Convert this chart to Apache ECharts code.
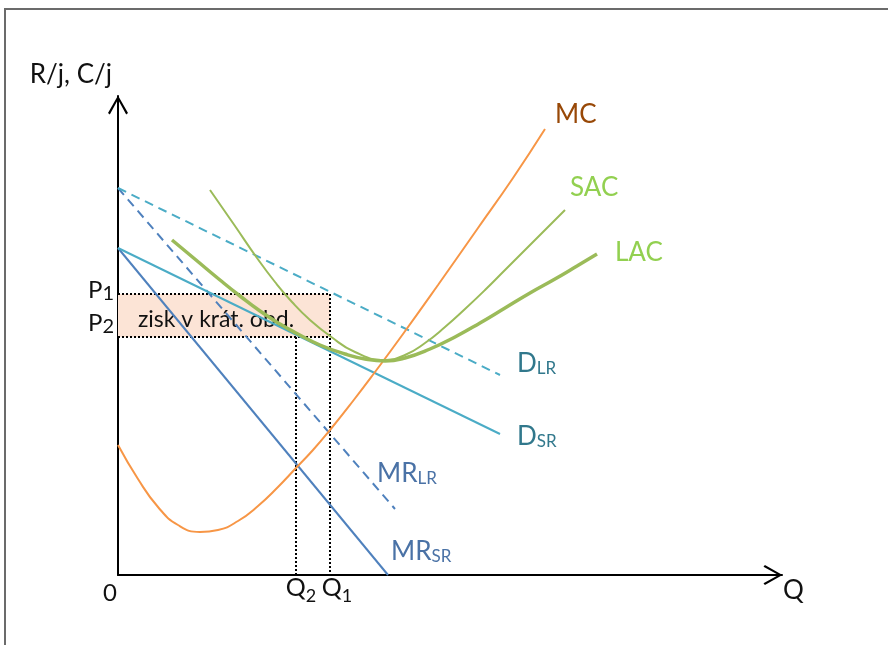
<!DOCTYPE html>
<html>
<head>
<meta charset="utf-8">
<script src="https://cdn.jsdelivr.net/npm/echarts@6/dist/echarts.min.js"></script>
<style>
  html, body { margin: 0; padding: 0; background: #fff; }
  #frame { position: absolute; left: 4px; top: 8px; width: 884px; height: 637px;
           border-left: 2px solid #6b6b6b; border-top: 2px solid #6b6b6b; box-sizing: border-box; }
  #chart { position: absolute; left: 0; top: 0; width: 888px; height: 645px; }
</style>
</head>
<body>
<div id="frame"></div>
<div id="chart"></div>
<script>
// Quantity / price levels of the monopolistic-competition diagram
const Q1 = 212;
const Q2 = 178;
const P1 = 281;
const P2 = 238;
const qMax = 664;
const pMax = 479;

// Demand and marginal revenue lines (short run / long run)
const demandSR = [[0, 327], [382, 141]];
const demandLR = [[0, 387], [382, 200]];
const mrSR = [[0, 327], [270, 0]];
const mrLR = [[0, 387], [277, 66]];

// Cost curves
const mc = [[0, 130], [20, 96], [40, 68], [60, 50], [82, 43], [100, 45], [120, 54], [140, 69],
            [160, 88], [178, 107], [195, 125], [212, 145], [235, 174], [257, 203], [285, 241],
            [320, 290], [360, 347], [395, 397], [427, 446]];
const sac = [[92, 385], [117, 349], [139, 317], [157, 293], [174, 273], [192, 255], [212, 239],
             [237, 223], [267, 215], [287, 220], [307, 232], [327, 248], [347, 266], [367, 285],
             [387, 305], [407, 325], [427, 345], [447, 365]];
const lac = [[54, 335], [78, 315], [102, 295], [122, 279], [142, 264], [162, 251], [178, 242],
             [202, 230], [227, 221], [247, 216], [267, 214], [287, 217], [312, 226], [337, 238],
             [362, 252], [387, 267], [412, 282], [437, 296], [459, 309], [479, 321]];

const FONT = 'Lato';
const INK = '#111111';
// open chevron used as the axis arrow head
const ARROW = 'path://M0,17.6 L10,0 L20,17.6 L18.2,19 L10,4 L1.8,19 Z';

function curveLabel(main, sub, color, offset) {
  return {
    show: true,
    distance: 0,
    offset: offset,
    formatter: sub ? '{m|' + main + '}{s|' + sub + '}' : '{m|' + main + '}',
    rich: {
      m: { fontFamily: FONT, fontSize: 26, color: color, lineHeight: 30, verticalAlign: 'bottom' },
      s: { fontFamily: FONT, fontSize: 17, color: color, lineHeight: 22, verticalAlign: 'bottom' }
    }
  };
}

function lineSeries(name, data, color, width, type, smooth, label) {
  return {
    name: name,
    type: 'line',
    data: data,
    showSymbol: false,
    smooth: smooth,
    clip: false,
    silent: true,
    lineStyle: { color: color, width: width, type: type, cap: 'butt' },
    endLabel: label
  };
}

// Level markers on the axes: 0, Q2, Q1 below the quantity axis, P1, P2 left of the price axis
const tagRich = {
  z: { fontFamily: FONT, fontSize: 24, color: INK, lineHeight: 28 },
  q: { fontFamily: FONT, fontSize: 25, color: INK, lineHeight: 28, verticalAlign: 'bottom', padding: [0, 0, 5, 0] },
  qs: { fontFamily: FONT, fontSize: 18, color: INK, lineHeight: 22, verticalAlign: 'bottom' },
  p: { fontFamily: FONT, fontSize: 24, color: INK, lineHeight: 26, verticalAlign: 'bottom', padding: [0, 0, 2, 0] },
  ps: { fontFamily: FONT, fontSize: 20, color: INK, lineHeight: 24, verticalAlign: 'bottom' }
};
function levelTag(coord, text, position, offset) {
  return {
    coord: coord,
    value: 0,
    label: { show: true, position: position, distance: 4, offset: offset, formatter: text, rich: tagRich }
  };
}

const dotted = { color: '#000', width: 2, type: [2, 2] };

const chart = echarts.init(document.getElementById('chart'));
chart.setOption({
  animation: false,
  backgroundColor: 'transparent',
  textStyle: { fontFamily: FONT },
  grid: { left: 118, right: 106, top: 96, bottom: 70 },
  xAxis: {
    type: 'value', min: 0, max: qMax,
    axisLine: {
      show: true, onZero: false,
      lineStyle: { color: '#000', width: 2 },
      symbol: ['none', ARROW], symbolSize: [20, 19], symbolOffset: [0, -9]
    },
    axisTick: { show: false },
    splitLine: { show: false },
    axisLabel: { show: false },
    name: 'Q',
    nameLocation: 'end',
    nameGap: 1,
    nameTextStyle: { fontSize: 26, color: INK, verticalAlign: 'top', padding: [3, 0, 0, 0] }
  },
  yAxis: {
    type: 'value', min: 0, max: pMax,
    axisLine: {
      show: true, onZero: false,
      lineStyle: { color: '#000', width: 2 },
      symbol: ['none', ARROW], symbolSize: [20, 19], symbolOffset: [0, -9]
    },
    axisTick: { show: false },
    splitLine: { show: false },
    axisLabel: { show: false },
    name: 'R/j, C/j',
    nameLocation: 'end',
    nameGap: 8,
    nameTextStyle: { fontSize: 26, color: INK, align: 'right', padding: [0, 6, 0, 0] }
  },
  series: [
    {
      name: 'P1 guide', type: 'line', data: [[0, P1], [Q1, P1], [Q1, 0]],
      showSymbol: false, silent: true, lineStyle: dotted, z: 3,
      markArea: {
        silent: true,
        itemStyle: { color: '#FCE4D6', opacity: 1 },
        label: {
          show: true, position: 'inside', offset: [-8, 4],
          fontFamily: FONT, fontSize: 23, color: INK
        },
        data: [[{ coord: [0, P1], name: 'zisk v krát. obd.' }, { coord: [Q1, P2] }]]
      },
      markPoint: {
        silent: true,
        symbol: 'circle',
        symbolSize: 0,
        itemStyle: { color: 'rgba(0,0,0,0)' },
        data: [
          levelTag([0, 0], '{z|0}', 'bottom', [-8, 0]),
          levelTag([Q2, 0], '{q|Q}{qs|2}', 'bottom', [5, -2]),
          levelTag([Q1, 0], '{q|Q}{qs|1}', 'bottom', [7, -2]),
          levelTag([0, P1], '{p|P}{ps|1}', 'left', [0, -3]),
          levelTag([0, P2], '{p|P}{ps|2}', 'left', [0, -13])
        ]
      }
    },
    { name: 'P2 guide', type: 'line', data: [[0, P2], [Q1, P2]], showSymbol: false, silent: true, lineStyle: dotted, z: 3 },
    { name: 'Q2 guide', type: 'line', data: [[Q2, P2], [Q2, 0]], showSymbol: false, silent: true, lineStyle: dotted, z: 3 },
    lineSeries('MR_SR', mrSR, '#4F81BD', 2, 'solid', false, curveLabel('MR', 'SR', '#4A72A6', [3, -25])),
    lineSeries('MR_LR', mrLR, '#4F81BD', 2, [9, 6], false, curveLabel('MR', 'LR', '#4A72A6', [-18, -37])),
    lineSeries('D_SR', demandSR, '#4BACC6', 2, 'solid', false, curveLabel('D', 'SR', '#31788C', [17, 1])),
    lineSeries('D_LR', demandLR, '#4BACC6', 2, [9, 6], false, curveLabel('D', 'LR', '#31788C', [17, -13])),
    lineSeries('MC', mc, '#F79646', 2, 'solid', 0.5, curveLabel('MC', '', '#984807', [10, -16])),
    lineSeries('SAC', sac, '#9BBB59', 2, 'solid', 0.5, curveLabel('SAC', '', '#92D050', [5, -24])),
    lineSeries('LAC', lac, '#9BBB59', 3.5, 'solid', 0.5, curveLabel('LAC', '', '#92D050', [18, -3]))
  ]
});
</script>
</body>
</html>
